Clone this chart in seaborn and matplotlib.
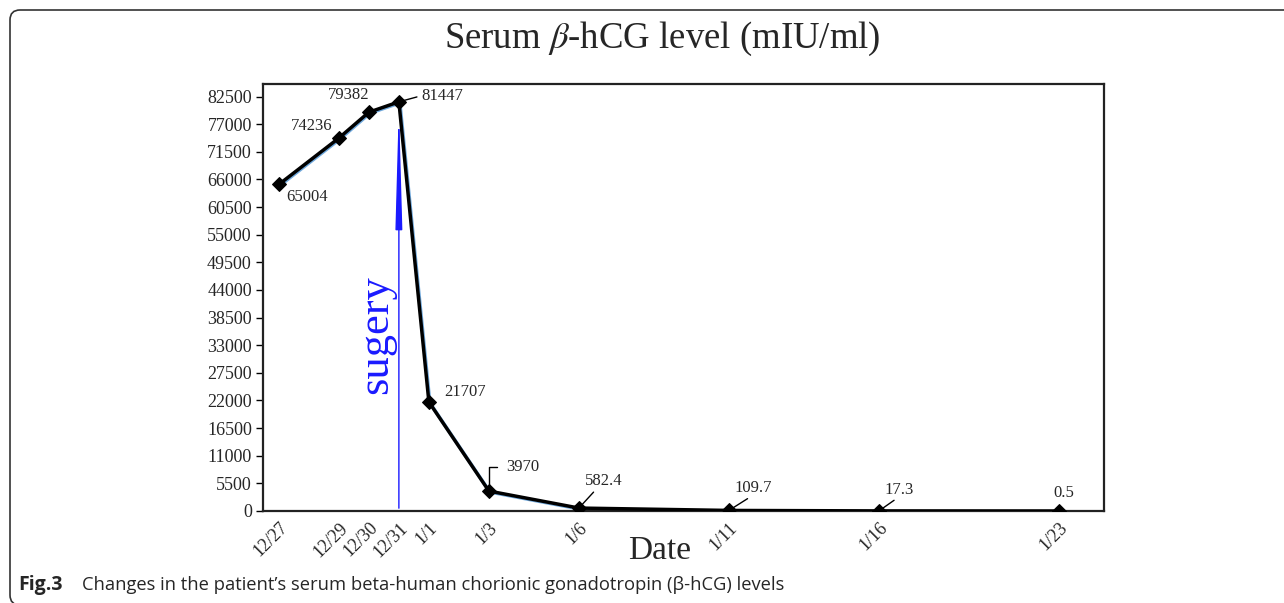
import numpy as np
import seaborn as sns
import matplotlib.pyplot as plt
import matplotlib.transforms as mtransforms
from matplotlib.patches import FancyBboxPatch, FancyArrowPatch

# data (day offsets from 12/27)
dates = ['12/27', '12/29', '12/30', '12/31', '1/1', '1/3', '1/6', '1/11', '1/16', '1/23']
days = [0, 2, 3, 4, 5, 7, 10, 15, 20, 26]
hcg = [65004, 74236, 79382, 81447, 21707, 3970, 582.4, 109.7, 17.3, 0.5]
labels = ['65004', '74236', '79382', '81447', '21707', '3970', '582.4', '109.7', '17.3', '0.5']
yticks = list(range(0, 82501, 5500))
surgery_day = 4

sns.set_theme(style='white')
plt.rcParams['font.family'] = ['Liberation Serif', 'DejaVu Serif']
plt.rcParams['mathtext.fontset'] = 'stix'

fig = plt.figure(figsize=(12.84, 6.03), dpi=100)
ax = fig.add_axes([0.2048, 0.1526, 0.655, 0.7081])

# light blue shadow under the black line
shadow = mtransforms.offset_copy(ax.transData, fig=fig, x=1.0, y=-1.0, units='dots')
ax.plot(days, hcg, color='#6fa8dc', lw=2.5, transform=shadow, zorder=2)
sns.lineplot(x=days, y=hcg, ax=ax, color='black', lw=2.5, marker='D',
             markersize=7, markeredgecolor='black', zorder=3)

ax.set_xlim(-0.53, 27.5)
ax.set_ylim(0, 85000)
ax.set_yticks(yticks)
ax.set_yticklabels([str(t) for t in yticks], fontsize=13)
ax.set_xticks(days)
ax.set_xticklabels(dates, fontsize=13, rotation=45, ha='right', rotation_mode='anchor')
ax.tick_params(axis='y', length=5, width=1, direction='out', color='black', pad=3, left=True)
ax.tick_params(axis='x', length=0, pad=6)
for sp in ax.spines.values():
    sp.set_color('#222222')
    sp.set_linewidth(1.6)

ax.set_xlabel('Date', fontsize=24)
ax.xaxis.set_label_coords(0.472, -0.057)
fig.text(0.5156, 0.935, r'Serum $\beta$-hCG level (mIU/ml)', fontsize=26.5,
         ha='center', va='center')

# surgery arrow
arr = FancyArrowPatch((surgery_day, 0), (surgery_day, hcg[3]),
                      arrowstyle='-|>,head_length=3.6,head_width=0.1',
                      mutation_scale=20, color='#1a1aff', lw=1.0, zorder=1)
ax.add_patch(arr)
ax.text(surgery_day - 0.75, 35150, 'sugery', rotation=90, color='#1a1aff',
        fontsize=32, ha='center', va='center')

# value labels: pixel offset, leader start on the text box (None = no leader)
offsets = [(28, -13, None), (-27, 12, None), (-20, 17, None), (43, 6, (0, 0.5)),
           (36, 10, None), (34, 24, 'angle'), (25, 27, (0.3, 0)), (24, 22, (0.45, 0)),
           (20, 21, (0.45, 0)), (5, 18, None)]
for d, v, lab, (dx, dy, lead) in zip(days, hcg, labels, offsets):
    kw = dict(textcoords='offset pixels', fontsize=12, ha='center', va='center')
    if lead == 'angle':
        kw['arrowprops'] = dict(arrowstyle='-', color='black', lw=1,
                                connectionstyle='angle,angleA=0,angleB=90,rad=0',
                                shrinkA=4, shrinkB=1)
    elif lead is not None:
        kw['arrowprops'] = dict(arrowstyle='-', color='black', lw=1, relpos=lead,
                                patchA=None, shrinkA=3, shrinkB=1)
    ax.annotate(lab, xy=(d, v), xytext=(dx, dy), **kw)

# caption and outer rounded frame
fig.text(0.014, 0.021, 'Fig.3', fontsize=14, fontweight='bold', family='Open Sans',
         ha='left', va='baseline')
fig.text(0.064, 0.021, "Changes in the patient\u2019s serum beta-human chorionic gonadotropin (\u03b2-hCG) levels",
         fontsize=13.2, family='Open Sans', ha='left', va='baseline')
frame = FancyBboxPatch((10, -2), 1300, 595, boxstyle='round,pad=0,rounding_size=10',
                       transform=None, fill=False, edgecolor='#333333', lw=1.2)
fig.patches.append(frame)

fig.savefig('out.png', dpi=100)
